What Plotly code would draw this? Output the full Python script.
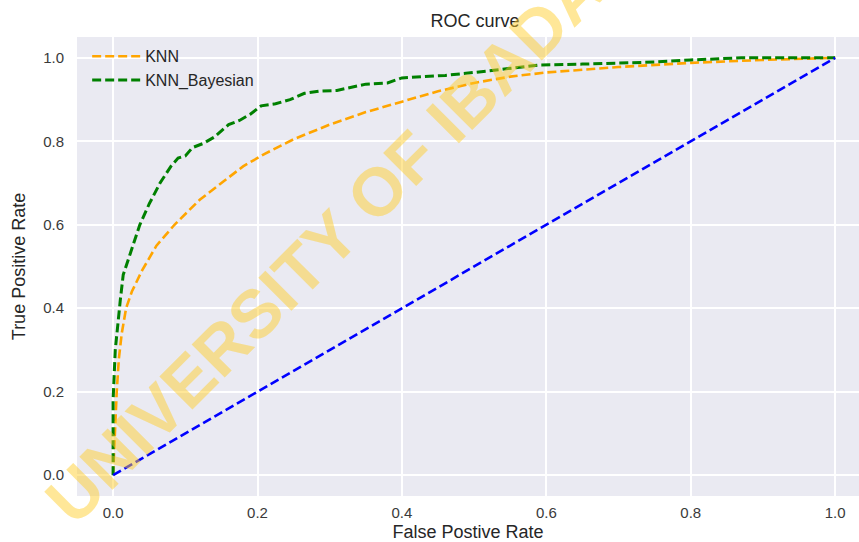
import plotly.graph_objects as go

knn_fpr = [0.0, 0.002, 0.005, 0.008, 0.012, 0.018, 0.026, 0.04, 0.06, 0.085, 0.12, 0.15, 0.18,
           0.21, 0.25, 0.30, 0.35, 0.40, 0.45, 0.50, 0.55, 0.60, 0.70, 0.80, 0.90, 1.0]
knn_tpr = [0.0, 0.10, 0.20, 0.28, 0.34, 0.40, 0.44, 0.49, 0.55, 0.60, 0.66, 0.70, 0.74,
           0.77, 0.805, 0.84, 0.87, 0.895, 0.92, 0.94, 0.955, 0.965, 0.978, 0.988, 0.995, 1.0]

bay_fpr = [0.0, 0.0, 0.003, 0.006, 0.01, 0.014, 0.02, 0.028, 0.037, 0.05, 0.065, 0.08, 0.09,
           0.10, 0.11, 0.125, 0.14, 0.16, 0.175, 0.19, 0.205, 0.225, 0.245, 0.265, 0.285,
           0.31, 0.33, 0.35, 0.38, 0.40, 0.43, 0.46, 0.50, 0.55, 0.59, 0.65, 0.70, 0.75,
           0.80, 0.87, 1.0]
bay_tpr = [0.0, 0.18, 0.30, 0.36, 0.42, 0.48, 0.51, 0.55, 0.60, 0.65, 0.70, 0.74, 0.76,
           0.765, 0.785, 0.795, 0.81, 0.84, 0.85, 0.865, 0.885, 0.89, 0.90, 0.915, 0.92,
           0.922, 0.93, 0.937, 0.94, 0.952, 0.955, 0.958, 0.965, 0.975, 0.983, 0.985, 0.988,
           0.99, 0.995, 1.0, 1.0]

diag_x = [0.0, 1.0]
diag_y = [0.0, 1.0]

tick_vals = [0, 0.2, 0.4, 0.6, 0.8, 1.0]
tick_text = ["0.0", "0.2", "0.4", "0.6", "0.8", "1.0"]

font_family = "Liberation Sans, Arial, sans-serif"
dash = "9px,4px"

fig = go.Figure()
fig.add_trace(go.Scatter(x=knn_fpr, y=knn_tpr, mode="lines", name="KNN",
                         line=dict(color="orange", width=2.6, dash=dash)))
fig.add_trace(go.Scatter(x=bay_fpr, y=bay_tpr, mode="lines", name="KNN_Bayesian",
                         line=dict(color="green", width=3.0, dash=dash)))
fig.add_trace(go.Scatter(x=diag_x, y=diag_y, mode="lines", showlegend=False,
                         line=dict(color="blue", width=2.6, dash=dash)))

fig.update_layout(
    width=859, height=542,
    margin=dict(l=77, r=0, t=37, b=46, autoexpand=False),
    paper_bgcolor="white",
    plot_bgcolor="#EAEAF2",
    font=dict(family=font_family, color="#262626"),
    title=dict(text="ROC curve", x=0.553, xanchor="center", y=0.961, yanchor="middle",
               font=dict(size=18, color="#262626")),
    showlegend=True,
    legend=dict(x=0.013, y=0.995, xanchor="left", yanchor="top",
                bgcolor="rgba(0,0,0,0)", font=dict(size=16, color="#262626"),
                tracegroupgap=0, itemwidth=48),
    xaxis=dict(range=[-0.05, 1.033], tickvals=tick_vals, ticktext=tick_text,
               showgrid=True, gridcolor="white", gridwidth=1.5, zeroline=False,
               showline=False, ticks="", tickfont=dict(size=15, color="#3a3a3a"),
               ticklabelstandoff=6, automargin=False,
               title=dict(text="False Postive Rate", font=dict(size=18, color="#262626"), standoff=6)),
    yaxis=dict(range=[-0.05, 1.05], tickvals=tick_vals, ticktext=tick_text,
               showgrid=True, gridcolor="white", gridwidth=1.5, zeroline=False,
               showline=False, ticks="", tickfont=dict(size=15, color="#3a3a3a"),
               ticklabelstandoff=12, automargin=False,
               title=dict(text="True Positive Rate", font=dict(size=18, color="#262626"), standoff=12)),
)

fig.add_annotation(text="<b>UNIVERSITY OF IBADAN</b>", xref="paper", yref="paper",
                   x=0.338, y=0.586, xanchor="center", yanchor="middle",
                   textangle=-45, showarrow=False,
                   font=dict(size=68, color="rgba(255,205,40,0.48)", family=font_family))

fig.write_html("out.html", config={"displayModeBar": False},
               post_script="document.body.style.margin='0';document.body.style.overflow='hidden';")
